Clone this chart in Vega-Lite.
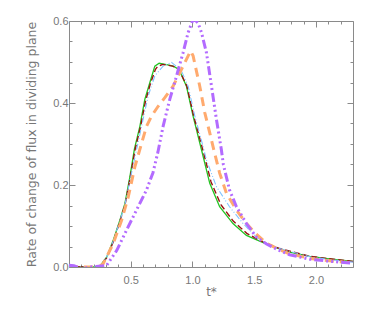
{
  "$schema": "https://vega.github.io/schema/vega-lite/v6.json",
  "width": 284,
  "height": 246,
  "autosize": "none",
  "padding": {"left": 69, "top": 21, "right": 21, "bottom": 44},
  "background": "white",
  "config": {
    "view": {"stroke": null},
    "axis": {
      "grid": false,
      "domainColor": "#8a8a8a",
      "tickColor": "#8a8a8a",
      "labelColor": "#777777",
      "titleColor": "#777777",
      "labelFont": "Liberation Sans",
      "titleFont": "DejaVu Sans",
      "labelFontSize": 11,
      "titleFontSize": 11,
      "titleFontWeight": "normal"
    }
  },
  "datasets": {
    "green": [
      {"t": 0, "v": 0}, {"t": 0.2, "v": 0}, {"t": 0.25, "v": 0.002}, {"t": 0.305, "v": 0.024},
      {"t": 0.358, "v": 0.065}, {"t": 0.412, "v": 0.114}, {"t": 0.453, "v": 0.155}, {"t": 0.493, "v": 0.22},
      {"t": 0.53, "v": 0.288}, {"t": 0.574, "v": 0.343}, {"t": 0.614, "v": 0.409}, {"t": 0.655, "v": 0.45},
      {"t": 0.695, "v": 0.49}, {"t": 0.73, "v": 0.497}, {"t": 0.8, "v": 0.493}, {"t": 0.843, "v": 0.49},
      {"t": 0.878, "v": 0.484}, {"t": 0.897, "v": 0.478}, {"t": 0.951, "v": 0.441}, {"t": 1.005, "v": 0.368},
      {"t": 1.073, "v": 0.286}, {"t": 1.14, "v": 0.204}, {"t": 1.22, "v": 0.147}, {"t": 1.328, "v": 0.106},
      {"t": 1.437, "v": 0.077}, {"t": 1.544, "v": 0.063}, {"t": 1.625, "v": 0.053}, {"t": 1.706, "v": 0.044},
      {"t": 1.787, "v": 0.036}, {"t": 1.95, "v": 0.026}, {"t": 2.11, "v": 0.02}, {"t": 2.3, "v": 0.0135}
    ],
    "red": [
      {"t": 0, "v": 0}, {"t": 0.2, "v": 0}, {"t": 0.25, "v": 0.002}, {"t": 0.31, "v": 0.024},
      {"t": 0.36, "v": 0.063}, {"t": 0.415, "v": 0.114}, {"t": 0.456, "v": 0.155}, {"t": 0.497, "v": 0.22},
      {"t": 0.535, "v": 0.286}, {"t": 0.58, "v": 0.343}, {"t": 0.62, "v": 0.405}, {"t": 0.66, "v": 0.448},
      {"t": 0.7, "v": 0.482}, {"t": 0.72, "v": 0.49}, {"t": 0.76, "v": 0.494}, {"t": 0.84, "v": 0.49},
      {"t": 0.88, "v": 0.484}, {"t": 0.9, "v": 0.476}, {"t": 0.955, "v": 0.441}, {"t": 1.01, "v": 0.368},
      {"t": 1.08, "v": 0.29}, {"t": 1.15, "v": 0.208}, {"t": 1.23, "v": 0.152}, {"t": 1.33, "v": 0.112},
      {"t": 1.396, "v": 0.094}, {"t": 1.44, "v": 0.082}, {"t": 1.544, "v": 0.065}, {"t": 1.706, "v": 0.045},
      {"t": 1.95, "v": 0.026}, {"t": 2.11, "v": 0.02}, {"t": 2.3, "v": 0.0135}
    ],
    "cyan": [
      {"t": 0, "v": 0}, {"t": 0.2, "v": 0}, {"t": 0.25, "v": 0.002}, {"t": 0.305, "v": 0.024},
      {"t": 0.358, "v": 0.063}, {"t": 0.412, "v": 0.112}, {"t": 0.455, "v": 0.155}, {"t": 0.5, "v": 0.22},
      {"t": 0.547, "v": 0.286}, {"t": 0.6, "v": 0.36}, {"t": 0.641, "v": 0.417}, {"t": 0.695, "v": 0.466},
      {"t": 0.762, "v": 0.49}, {"t": 0.83, "v": 0.499}, {"t": 0.884, "v": 0.486}, {"t": 0.911, "v": 0.478},
      {"t": 0.965, "v": 0.441}, {"t": 1.019, "v": 0.368}, {"t": 1.086, "v": 0.294}, {"t": 1.113, "v": 0.261},
      {"t": 1.194, "v": 0.196}, {"t": 1.3, "v": 0.147}, {"t": 1.41, "v": 0.106}, {"t": 1.517, "v": 0.073},
      {"t": 1.6, "v": 0.058}, {"t": 1.706, "v": 0.045}, {"t": 1.95, "v": 0.025}, {"t": 2.11, "v": 0.018},
      {"t": 2.3, "v": 0.012}
    ],
    "orange": [
      {"t": 0, "v": 0}, {"t": 0.2, "v": 0}, {"t": 0.25, "v": 0.002}, {"t": 0.277, "v": 0.008},
      {"t": 0.358, "v": 0.057}, {"t": 0.426, "v": 0.114}, {"t": 0.48, "v": 0.171}, {"t": 0.534, "v": 0.245},
      {"t": 0.588, "v": 0.302}, {"t": 0.628, "v": 0.343}, {"t": 0.668, "v": 0.368}, {"t": 0.722, "v": 0.392},
      {"t": 0.776, "v": 0.413}, {"t": 0.843, "v": 0.441}, {"t": 0.911, "v": 0.482}, {"t": 0.965, "v": 0.515},
      {"t": 0.985, "v": 0.527}, {"t": 1.005, "v": 0.515}, {"t": 1.059, "v": 0.441}, {"t": 1.1, "v": 0.376},
      {"t": 1.14, "v": 0.327}, {"t": 1.175, "v": 0.283}, {"t": 1.22, "v": 0.229}, {"t": 1.275, "v": 0.18},
      {"t": 1.356, "v": 0.139}, {"t": 1.437, "v": 0.106}, {"t": 1.517, "v": 0.08}, {"t": 1.6, "v": 0.058},
      {"t": 1.706, "v": 0.042}, {"t": 1.787, "v": 0.032}, {"t": 1.95, "v": 0.021}, {"t": 2.11, "v": 0.015},
      {"t": 2.3, "v": 0.01}
    ],
    "purple": [
      {"t": 0, "v": 0.004}, {"t": 0.04, "v": 0.003}, {"t": 0.1, "v": -0.004}, {"t": 0.17, "v": 0},
      {"t": 0.22, "v": 0.001}, {"t": 0.305, "v": 0.004}, {"t": 0.386, "v": 0.04}, {"t": 0.466, "v": 0.09},
      {"t": 0.547, "v": 0.139}, {"t": 0.628, "v": 0.188}, {"t": 0.68, "v": 0.23}, {"t": 0.72, "v": 0.28},
      {"t": 0.762, "v": 0.343}, {"t": 0.816, "v": 0.409}, {"t": 0.871, "v": 0.466}, {"t": 0.924, "v": 0.523},
      {"t": 0.965, "v": 0.572}, {"t": 1.0, "v": 0.6}, {"t": 1.019, "v": 0.603}, {"t": 1.045, "v": 0.595},
      {"t": 1.073, "v": 0.572}, {"t": 1.113, "v": 0.523}, {"t": 1.154, "v": 0.441}, {"t": 1.194, "v": 0.36},
      {"t": 1.234, "v": 0.286}, {"t": 1.25, "v": 0.25}, {"t": 1.3, "v": 0.188}, {"t": 1.356, "v": 0.147},
      {"t": 1.437, "v": 0.106}, {"t": 1.517, "v": 0.073}, {"t": 1.6, "v": 0.056}, {"t": 1.706, "v": 0.04},
      {"t": 1.787, "v": 0.03}, {"t": 1.95, "v": 0.019}, {"t": 2.11, "v": 0.014}, {"t": 2.3, "v": 0.009}
    ]
  },
  "resolve": {"axis": {"x": "independent", "y": "independent"}},
  "layer": [
    {
      "data": {"name": "green"},
      "mark": {"type": "line", "color": "#22c422", "strokeWidth": 1.3, "clip": true},
      "encoding": {
        "x": {"field": "t", "type": "quantitative", "scale": {"domain": [0, 2.3], "nice": false, "zero": false},
          "axis": {"orient": "bottom", "values": [0.5, 1, 1.5, 2], "format": ".1f", "title": "t*", "titleFontSize": 12, "tickSize": -6, "labelPadding": 13, "titlePadding": 1}},
        "y": {"field": "v", "type": "quantitative", "scale": {"domain": [0, 0.6], "nice": false},
          "axis": {"orient": "left", "values": [0, 0.2, 0.4, 0.6], "format": ".1f", "title": "Rate of change of flux in dividing plane", "titleFontSize": 12.5, "tickSize": -6, "labelPadding": 7, "titlePadding": 14}}
      }
    },
    {
      "data": {"name": "red"},
      "mark": {"type": "line", "color": "#9a1212", "strokeWidth": 1.4, "strokeDash": [6, 3], "clip": true},
      "encoding": {
        "x": {"field": "t", "type": "quantitative", "scale": {"domain": [0, 2.3], "nice": false, "zero": false},
          "axis": {"orient": "bottom", "values": [0.1, 0.2, 0.3, 0.4, 0.6, 0.7, 0.8, 0.9, 1.1, 1.2, 1.3, 1.4, 1.6, 1.7, 1.8, 1.9, 2.1, 2.2], "labels": false, "domain": false, "title": null, "tickSize": -3}},
        "y": {"field": "v", "type": "quantitative", "scale": {"domain": [0, 0.6], "nice": false},
          "axis": {"orient": "left", "values": [0.05, 0.1, 0.15, 0.25, 0.3, 0.35, 0.45, 0.5, 0.55], "labels": false, "domain": false, "title": null, "tickSize": -3}}
      }
    },
    {
      "data": {"name": "cyan"},
      "mark": {"type": "line", "color": "#80c4ff", "strokeWidth": 1.1, "strokeDash": [6, 2, 1, 2, 1, 2], "clip": true},
      "encoding": {
        "x": {"field": "t", "type": "quantitative", "scale": {"domain": [0, 2.3], "nice": false, "zero": false},
          "axis": {"orient": "top", "values": [0.5, 1, 1.5, 2], "labels": false, "title": null, "tickSize": -6}},
        "y": {"field": "v", "type": "quantitative", "scale": {"domain": [0, 0.6], "nice": false},
          "axis": {"orient": "right", "values": [0, 0.2, 0.4, 0.6], "labels": false, "title": null, "tickSize": -6}}
      }
    },
    {
      "data": {"name": "orange"},
      "mark": {"type": "line", "color": "#ffaa6e", "strokeWidth": 3, "strokeDash": [9, 6], "clip": true},
      "encoding": {
        "x": {"field": "t", "type": "quantitative", "scale": {"domain": [0, 2.3], "nice": false, "zero": false},
          "axis": {"orient": "top", "values": [0.1, 0.2, 0.3, 0.4, 0.6, 0.7, 0.8, 0.9, 1.1, 1.2, 1.3, 1.4, 1.6, 1.7, 1.8, 1.9, 2.1, 2.2], "labels": false, "domain": false, "title": null, "tickSize": -3}},
        "y": {"field": "v", "type": "quantitative", "scale": {"domain": [0, 0.6], "nice": false},
          "axis": {"orient": "right", "values": [0.05, 0.1, 0.15, 0.25, 0.3, 0.35, 0.45, 0.5, 0.55], "labels": false, "domain": false, "title": null, "tickSize": -3}}
      }
    },
    {
      "data": {"name": "purple"},
      "mark": {"type": "line", "color": "#b36bff", "strokeWidth": 3, "strokeDash": [9, 3, 2, 3, 2, 3, 2, 3], "clip": true},
      "encoding": {
        "x": {"field": "t", "type": "quantitative", "scale": {"domain": [0, 2.3], "nice": false, "zero": false}, "axis": null},
        "y": {"field": "v", "type": "quantitative", "scale": {"domain": [0, 0.6], "nice": false}, "axis": null}
      }
    }
  ]
}
